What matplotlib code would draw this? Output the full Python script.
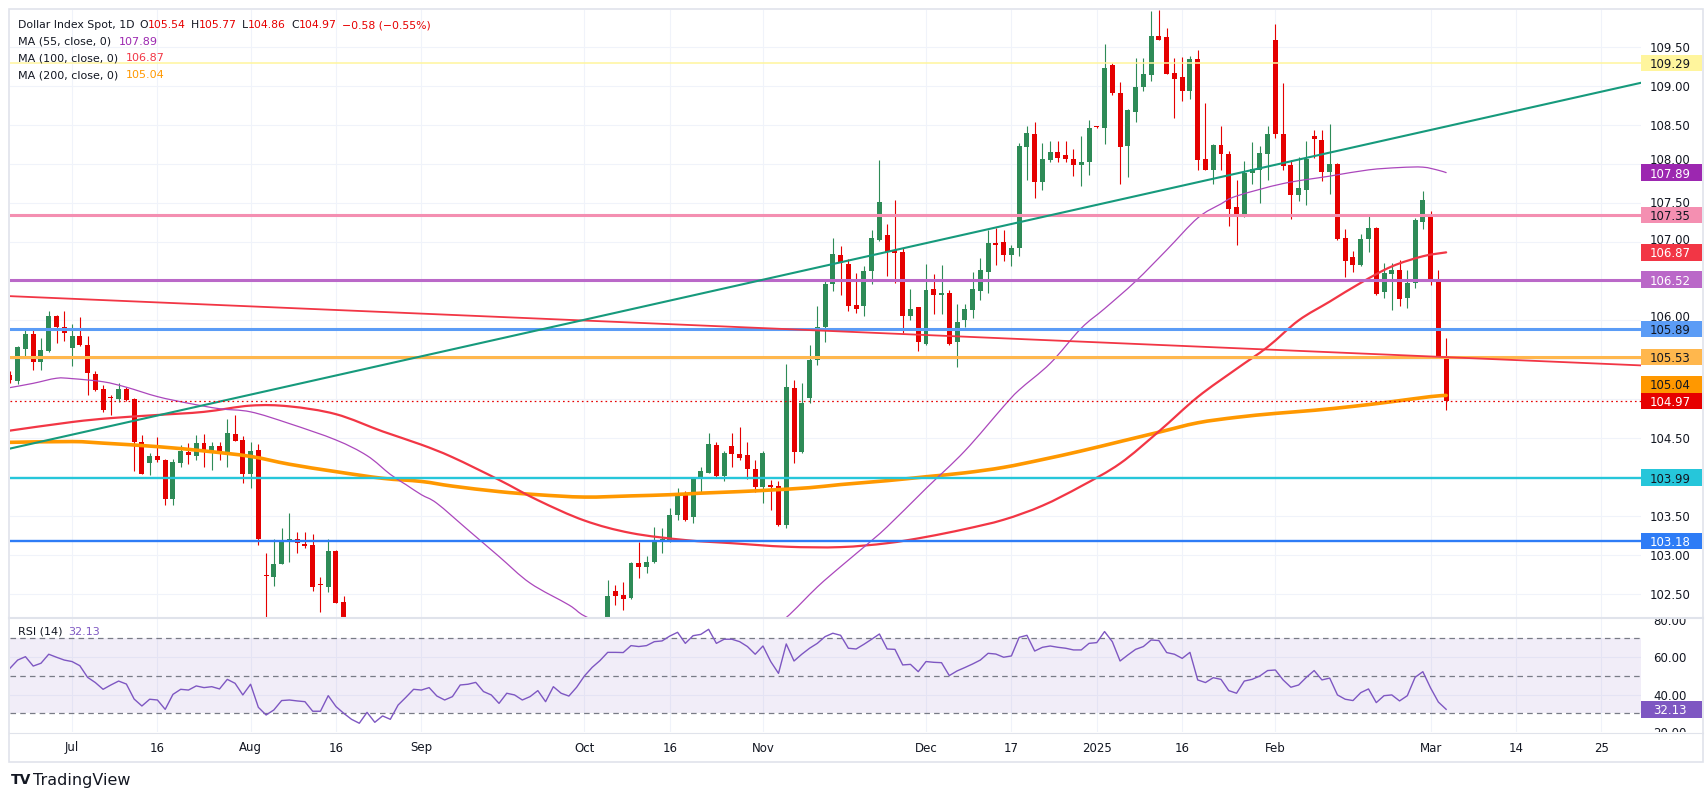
import numpy as np
import pandas as pd
import matplotlib
matplotlib.use("Agg")
import matplotlib.pyplot as plt
from matplotlib.patches import Rectangle, PathPatch
from matplotlib.lines import Line2D
from matplotlib.path import Path
from matplotlib import transforms

plt.rcParams['font.family'] = ['DejaVu Sans']
plt.rcParams['lines.scale_dashes'] = False

# ---------------- data ----------------
dates = pd.bdate_range("2024-06-19", "2025-03-05")

opens = [105.30, 105.23, 105.63, 105.83, 105.47, 105.61, 106.06, 105.92, 105.65, 105.80,
         105.69, 105.32, 105.12, 105.02, 105.00, 105.12, 105.00, 104.44, 104.18, 104.27,
         104.22, 103.72, 104.18, 104.32, 104.26, 104.43, 104.33, 104.39, 104.29, 104.55,
         104.47, 104.04, 104.34, 102.74, 102.72, 102.89, 103.17, 103.21, 103.14, 103.13,
         102.62, 102.59, 103.05, 102.40, 101.86, 101.40, 101.10, 101.50, 100.68, 100.86,
         100.53, 101.08, 101.34, 101.70, 101.69, 101.83, 101.36, 101.09, 101.18, 101.63,
         101.63, 101.69, 101.35, 101.11, 100.75, 100.89, 100.60, 100.63, 100.72, 100.88,
         100.36, 100.91, 100.56, 100.38, 100.78, 101.19, 101.69, 101.99, 102.54, 102.49,
         102.45, 102.90, 102.84, 102.91, 103.19, 103.18, 103.51, 103.77, 103.49, 103.98,
         104.05, 104.41, 104.01, 104.39, 104.29, 104.28, 104.10, 103.87, 103.90, 103.88,
         103.38, 105.13, 104.32, 105.01, 105.49, 105.91, 106.46, 106.84, 106.72, 106.20,
         106.18, 106.63, 107.03, 107.09, 106.90, 106.87, 106.05, 106.17, 105.70, 106.40,
         106.32, 106.35, 105.72, 106.00, 106.13, 106.38, 106.62, 106.99, 107.00, 106.84,
         106.93, 108.22, 108.38, 107.77, 108.05, 108.16, 108.12, 108.07, 107.99, 108.03,
         108.48, 108.46, 109.27, 108.91, 108.23, 108.67, 108.98, 109.14, 109.64, 109.62,
         109.17, 109.11, 108.93, 109.34, 108.07, 107.92, 108.24, 108.13, 107.45, 107.32,
         107.89, 107.92, 108.13, 109.59, 108.39, 107.99, 107.60, 107.67, 108.36, 108.31,
         107.90, 108.00, 107.05, 106.81, 106.71, 107.04, 107.18, 106.36, 106.59, 106.65,
         106.28, 106.48, 107.26, 107.32, 106.53, 105.54]
highs = [105.35, 105.67, 105.90, 105.89, 105.77, 106.12, 106.07, 106.12, 105.96, 106.04,
         105.80, 105.35, 105.17, 105.05, 105.20, 105.15, 105.01, 104.53, 104.31, 104.51,
         104.23, 104.23, 104.41, 104.43, 104.53, 104.55, 104.45, 104.44, 104.74, 104.79,
         104.52, 104.44, 104.42, 103.02, 103.21, 103.35, 103.53, 103.29, 103.29, 103.27,
         102.72, 103.21, 103.06, 102.48, 101.95, 101.55, 101.60, 101.55, 100.95, 100.90,
         101.15, 101.45, 101.85, 101.85, 101.95, 101.90, 101.50, 101.40, 101.70, 101.75,
         101.95, 101.75, 101.40, 101.15, 101.00, 101.05, 101.00, 100.95, 101.05, 101.00,
         101.00, 101.00, 100.70, 100.85, 101.30, 101.75, 102.07, 102.68, 102.62, 102.65,
         102.91, 103.17, 102.99, 103.36, 103.35, 103.60, 103.86, 103.82, 104.00, 104.12,
         104.56, 104.44, 104.33, 104.56, 104.63, 104.44, 104.21, 104.33, 103.96, 103.95,
         105.44, 105.24, 105.20, 105.69, 106.18, 106.53, 107.06, 106.95, 106.79, 106.61,
         106.70, 107.15, 108.05, 107.23, 107.54, 106.92, 106.40, 106.17, 106.72, 106.59,
         106.71, 106.39, 106.21, 106.21, 106.62, 106.80, 107.16, 107.18, 107.16, 106.96,
         108.27, 108.48, 108.54, 108.27, 108.29, 108.29, 108.29, 108.19, 108.36, 108.56,
         108.49, 109.54, 109.29, 109.05, 108.70, 109.35, 109.35, 109.96, 109.97, 109.74,
         109.35, 109.37, 109.38, 109.46, 108.78, 108.26, 108.49, 108.17, 107.80, 108.04,
         108.28, 108.23, 108.49, 109.79, 109.03, 108.05, 108.09, 108.30, 108.44, 108.44,
         108.51, 108.01, 107.17, 106.89, 107.11, 107.36, 107.19, 106.73, 106.73, 106.77,
         106.65, 107.31, 107.66, 107.40, 106.65, 105.77]
lows = [105.20, 105.19, 105.53, 105.37, 105.37, 105.59, 105.71, 105.74, 105.42, 105.67,
        105.05, 105.10, 104.83, 104.79, 104.95, 104.97, 104.07, 104.04, 104.02, 104.19,
        103.64, 103.64, 104.13, 104.16, 104.21, 104.12, 104.08, 104.21, 104.13, 104.46,
        103.92, 103.86, 103.13, 102.16, 102.60, 102.88, 102.91, 103.03, 103.09, 102.54,
        102.27, 102.53, 102.38, 101.80, 101.30, 100.92, 101.00, 100.60, 100.55, 100.50,
        100.45, 100.95, 101.25, 101.55, 101.50, 101.25, 100.95, 100.75, 101.10, 101.45,
        101.30, 101.30, 100.95, 100.65, 100.55, 100.22, 100.40, 100.50, 100.60, 100.25,
        100.20, 100.45, 100.15, 100.20, 100.70, 101.10, 101.55, 101.90, 102.36, 102.30,
        102.44, 102.71, 102.77, 102.90, 103.03, 103.17, 103.45, 103.44, 103.41, 103.81,
        104.05, 104.00, 103.94, 104.12, 104.21, 103.97, 103.81, 103.67, 103.58, 103.37,
        103.34, 104.18, 104.30, 104.94, 105.43, 105.72, 106.38, 106.32, 106.12, 106.10,
        106.06, 106.46, 107.02, 106.57, 106.48, 105.84, 106.00, 105.61, 105.69, 106.08,
        106.08, 105.69, 105.41, 105.91, 106.03, 106.26, 106.35, 106.71, 106.76, 106.70,
        106.82, 107.80, 107.57, 107.67, 108.03, 108.03, 108.02, 107.85, 107.72, 107.86,
        108.46, 108.26, 108.88, 107.75, 107.84, 108.54, 108.93, 109.06, 109.58, 109.15,
        108.59, 108.81, 108.83, 107.92, 107.92, 107.74, 107.92, 107.21, 106.97, 107.32,
        107.74, 107.50, 107.79, 108.33, 107.92, 107.30, 107.53, 107.47, 108.08, 107.78,
        107.62, 107.03, 106.56, 106.62, 106.70, 106.88, 106.33, 106.28, 106.13, 106.19,
        106.16, 106.42, 107.17, 106.45, 105.52, 104.86]
closes = [105.24, 105.66, 105.83, 105.47, 105.62, 106.06, 105.92, 105.84, 105.80, 105.68,
          105.33, 105.11, 104.85, 105.01, 105.12, 104.98, 104.44, 104.04, 104.27, 104.21,
          103.72, 104.19, 104.33, 104.28, 104.43, 104.34, 104.39, 104.31, 104.56, 104.46,
          104.04, 104.33, 103.21, 102.73, 102.89, 103.17, 103.21, 103.15, 103.11, 102.59,
          102.61, 103.05, 102.39, 101.86, 101.40, 101.10, 101.50, 100.68, 100.86, 100.53,
          101.08, 101.34, 101.70, 101.69, 101.83, 101.36, 101.09, 101.18, 101.63, 101.63,
          101.69, 101.35, 101.11, 100.75, 100.89, 100.60, 100.63, 100.72, 100.88, 100.36,
          100.91, 100.56, 100.38, 100.78, 101.19, 101.69, 101.99, 102.47, 102.48, 102.44,
          102.90, 102.84, 102.91, 103.19, 103.20, 103.51, 103.77, 103.45, 103.97, 104.07,
          104.42, 104.01, 104.30, 104.29, 104.24, 104.10, 103.87, 104.30, 103.87, 103.38,
          105.15, 104.32, 104.94, 105.49, 105.91, 106.47, 106.85, 106.74, 106.18, 106.15,
          106.63, 107.05, 107.51, 106.87, 106.86, 106.05, 106.14, 105.72, 106.39, 106.33,
          106.35, 105.70, 105.98, 106.15, 106.40, 106.64, 106.99, 106.96, 106.83, 106.93,
          108.23, 108.40, 107.77, 108.07, 108.16, 108.08, 108.06, 107.99, 108.03, 108.46,
          108.47, 109.23, 108.91, 108.22, 108.69, 108.98, 109.15, 109.64, 109.59, 109.15,
          109.09, 108.93, 109.34, 108.05, 107.92, 108.24, 108.13, 107.43, 107.32, 107.89,
          107.93, 108.14, 108.39, 108.39, 107.98, 107.60, 107.69, 108.06, 108.32, 107.90,
          108.00, 107.04, 106.76, 106.71, 107.04, 107.18, 106.34, 106.61, 106.65, 106.27,
          106.48, 107.29, 107.54, 106.53, 105.53, 104.97]

rsi_values = [54.0, 58.4, 60.2, 55.2, 56.7, 61.5, 59.9, 58.4,
              57.6, 55.4, 49.2, 46.4, 42.8, 45.1, 47.2, 45.6, 37.6, 33.9,
              37.5, 37.1, 32.1, 40.1, 42.8, 42.4, 44.6, 43.7, 44.2, 43.0,
              48.1, 46.0, 39.8, 45.5, 33.2, 29.1, 31.8, 36.8, 37.1, 36.6,
              36.2, 31.1, 31.1, 39.4, 33.6, 30.0, 26.8, 24.7, 30.5, 25.2,
              28.6, 26.8, 34.4, 38.5, 42.8, 42.4, 43.7, 39.2, 37.1, 38.9,
              45.1, 45.5, 46.5, 41.6, 39.8, 35.3, 40.7, 39.8, 37.1, 38.9,
              42.1, 36.2, 44.2, 40.7, 39.2, 43.9, 49.9, 54.5, 58.1, 62.5,
              62.5, 62.4, 66.1, 65.6, 66.1, 68.2, 68.6, 71.2, 73.2, 67.3,
              71.4, 72.1, 74.8, 67.3, 69.5, 69.5, 68.2, 65.6, 61.5, 65.9,
              57.6, 51.3, 67.0, 57.9, 61.5, 64.7, 67.3, 70.9, 72.7, 71.6,
              64.7, 64.3, 66.8, 69.5, 72.3, 64.3, 64.1, 55.8, 56.1, 52.2,
              57.6, 57.2, 57.0, 50.1, 52.6, 54.4, 56.3, 58.4, 62.0, 61.6,
              59.9, 60.6, 70.5, 71.6, 63.2, 65.2, 65.9, 65.2, 64.7, 63.8,
              63.8, 67.3, 67.7, 73.6, 68.2, 57.9, 61.1, 64.1, 65.6, 69.1,
              68.8, 62.4, 61.5, 59.3, 62.5, 47.8, 46.4, 49.0, 48.1, 42.1,
              40.7, 47.2, 48.1, 49.9, 52.8, 53.1, 47.8, 43.9, 45.1, 49.2,
              52.8, 47.8, 48.8, 39.8, 37.5, 36.8, 41.0, 43.0, 35.7, 39.4,
              39.8, 36.6, 39.4, 49.2, 52.2, 43.5, 36.0, 32.13]

ma55_dates = ["2024-06-19", "2024-06-24", "2024-06-27", "2024-07-01", "2024-07-05", "2024-07-10",
              "2024-07-16", "2024-07-22", "2024-07-26", "2024-08-01", "2024-08-08", "2024-08-16",
              "2024-08-22", "2024-08-27", "2024-08-29", "2024-09-02", "2024-09-04", "2024-09-10",
              "2024-09-16", "2024-09-20", "2024-09-27", "2024-10-01", "2024-10-07", "2024-10-14",
              "2024-10-21", "2024-10-28", "2024-11-04", "2024-11-06", "2024-11-12", "2024-11-15",
              "2024-11-20", "2024-11-25", "2024-12-02", "2024-12-09", "2024-12-16", "2024-12-18",
              "2024-12-24", "2024-12-30", "2025-01-02", "2025-01-08", "2025-01-14", "2025-01-20",
              "2025-01-23", "2025-01-27", "2025-02-04", "2025-02-12", "2025-02-19", "2025-02-25",
              "2025-02-28", "2025-03-04", "2025-03-05"]
ma55_values = [105.14, 105.195, 105.26, 105.255, 105.215, 105.145,
               105.025, 104.94, 104.87, 104.83, 104.68, 104.47,
               104.27, 104.03, 103.90, 103.77, 103.66, 103.32,
               102.98, 102.64, 102.36, 102.22, 102.05, 101.92,
               101.86, 101.92, 102.10, 102.20, 102.59, 102.85,
               103.10, 103.36, 103.85, 104.33, 104.90, 105.11,
               105.45, 105.90, 106.15, 106.50, 106.90, 107.31,
               107.49, 107.59, 107.75, 107.845, 107.925, 107.955,
               107.96, 107.92, 107.89]

ma100_dates = ["2024-06-19", "2024-07-01", "2024-07-08", "2024-07-16", "2024-07-24", "2024-08-01",
               "2024-08-08", "2024-08-16", "2024-08-26", "2024-09-02", "2024-09-06", "2024-09-16",
               "2024-09-23", "2024-10-01", "2024-10-09", "2024-10-18", "2024-10-28", "2024-11-06",
               "2024-11-15", "2024-11-25", "2024-12-02", "2024-12-09", "2024-12-16", "2024-12-23",
               "2024-12-30", "2025-01-06", "2025-01-13", "2025-01-20", "2025-01-27", "2025-01-31",
               "2025-02-06", "2025-02-12", "2025-02-18", "2025-02-24", "2025-02-28", "2025-03-05"]
ma100_values = [104.59, 104.70, 104.75, 104.79, 104.83, 104.91,
                104.90, 104.80, 104.58, 104.41, 104.25, 103.96,
                103.70, 103.44, 103.28, 103.19, 103.15, 103.105,
                103.10, 103.15, 103.23, 103.33, 103.45, 103.63,
                103.88, 104.17, 104.58, 105.02, 105.38, 105.66,
                106.00, 106.24, 106.48, 106.69, 106.82, 106.87]

ma200_dates = ["2024-06-19", "2024-07-01", "2024-07-05", "2024-07-16", "2024-07-24", "2024-08-01",
               "2024-08-08", "2024-08-16", "2024-08-26", "2024-09-02", "2024-09-06", "2024-09-16",
               "2024-09-23", "2024-10-01", "2024-10-09", "2024-10-16", "2024-10-22", "2024-10-29",
               "2024-11-04", "2024-11-11", "2024-11-15", "2024-11-25", "2024-12-02", "2024-12-09",
               "2024-12-16", "2024-12-23", "2024-12-30", "2025-01-06", "2025-01-13", "2025-01-20",
               "2025-01-27", "2025-02-03", "2025-02-10", "2025-02-17", "2025-02-24", "2025-03-03",
               "2025-03-05"]
ma200_values = [104.44, 104.45, 104.43, 104.385, 104.33, 104.26,
                104.16, 104.065, 103.98, 103.94, 103.88, 103.81,
                103.77, 103.74, 103.755, 103.77, 103.79, 103.81,
                103.83, 103.86, 103.90, 103.95, 104.00, 104.05,
                104.12, 104.22, 104.33, 104.45, 104.57, 104.69,
                104.76, 104.81, 104.85, 104.90, 104.96, 105.025,
                105.04]

level_prices = [109.29, 107.35, 106.52, 105.89, 105.53, 103.99, 103.18]

trend_up_dates = ["2024-06-19", "2025-03-05"]
trend_up_prices = [104.36, 108.48]
trend_down_dates = ["2024-06-19", "2025-03-05"]
trend_down_prices = [106.31, 105.53]

tick_dates = ["2024-07-01", "2024-07-16", "2024-08-01", "2024-08-16", "2024-09-02",
              "2024-10-01", "2024-10-16", "2024-11-01", "2024-12-02", "2024-12-17",
              "2025-01-01", "2025-01-16", "2025-02-03", "2025-03-03", "2025-03-14",
              "2025-03-25"]
tick_labels = ["Jul", "16", "Aug", "16", "Sep", "Oct", "16", "Nov", "Dec", "17",
               "2025", "16", "Feb", "Mar", "14", "25"]
price_ticks = [102.5, 103.0, 103.5, 104.0, 104.5, 105.0, 105.5, 106.0, 106.5,
               107.0, 107.5, 108.0, 108.5, 109.0, 109.5]
rsi_ticks = [20, 40, 60, 80]

# ---------------- styling ----------------
W, H, DPI = 1706, 797, 100
UP, DN = '#2e8b57', '#e50000'
TXT = '#131722'
GRID = '#f0f3fa'
C_MA55, C_MA100, C_MA200 = '#ab47bc', '#f23645', '#ff9800'
level_colors = ['#fff59d', '#f48fb1', '#ba68c8', '#5b9cf6', '#ffb74d', '#26c6da', '#2e7cf6']
level_widths = [1.1, 2.2, 2.2, 2.2, 2.2, 1.7, 1.7]
level_text = [TXT, TXT, 'white', TXT, TXT, TXT, 'white']

date_pos = {d: i for i, d in enumerate(dates)}
last_i = len(dates) - 1


def pos(s):
    d = pd.Timestamp(s)
    if d in date_pos:
        return date_pos[d]
    return last_i + (d - dates[-1]).days


def smooth_path(xs, ys):
    # Catmull-Rom curve through the given points, drawn as cubic Bezier segments
    pts = np.column_stack([xs, ys]).astype(float)
    verts = [pts[0]]
    codes = [Path.MOVETO]
    n = len(pts)
    for i in range(n - 1):
        p0 = pts[i - 1] if i > 0 else pts[i]
        p1, p2 = pts[i], pts[i + 1]
        p3 = pts[i + 2] if i + 2 < n else pts[i + 1]
        verts += [p1 + (p2 - p0) / 6.0, p2 - (p3 - p1) / 6.0, p2]
        codes += [Path.CURVE4] * 3
    return Path(verts, codes)


fig = plt.figure(figsize=(W / DPI, H / DPI), dpi=DPI)
fig.patch.set_facecolor('white')


def fbox(l, t, r, b):
    return [l / W, 1 - b / H, (r - l) / W, (b - t) / H]


ax = fig.add_axes(fbox(10, 10, 1641, 617))
ax_r = fig.add_axes(fbox(10, 618, 1641, 732))
ax_s = fig.add_axes(fbox(1641, 10, 1704, 617))
ax_rs = fig.add_axes(fbox(1641, 618, 1704, 732))
for a in (ax, ax_r, ax_s, ax_rs):
    a.set_facecolor('none')
    for sp in a.spines.values():
        sp.set_visible(False)
    a.tick_params(left=False, bottom=False, labelleft=False, labelbottom=False)

XL = (0.01, 210.1)
YL = (102.206, 109.97)
RL = (20.03, 80.83)
ax.set_xlim(*XL); ax.set_ylim(*YL)
ax_r.set_xlim(*XL); ax_r.set_ylim(*RL)
ax_s.set_xlim(0, 63); ax_s.set_ylim(*YL)
ax_rs.set_xlim(0, 63); ax_rs.set_ylim(*RL)
PX = 607.0 / (YL[1] - YL[0])  # pixels per price unit

# grid
tick_pos = [pos(d) for d in tick_dates]
for p in price_ticks:
    ax.axhline(p, color=GRID, lw=0.8, zorder=0)
for xv in tick_pos:
    ax.axvline(xv, color=GRID, lw=0.8, zorder=0)
    ax_r.axvline(xv, color=GRID, lw=0.8, zorder=0)
for v in (40, 60):
    ax_r.axhline(v, color=GRID, lw=0.8, zorder=0)

# candles
x = np.arange(len(dates))
o = np.array(opens); h = np.array(highs); l = np.array(lows); c = np.array(closes)
cols = np.where(c >= o, UP, DN)
ax.vlines(x, l, h, colors=cols, lw=0.8, zorder=2)
ax.bar(x, np.maximum(np.abs(c - o), 0.013), bottom=np.minimum(o, c), width=0.64,
       color=cols, lw=0, zorder=2.1)

# moving averages (smooth curves through the read values)
for dts, vals, col, lw, z in [(ma200_dates, ma200_values, C_MA200, 2.6, 3.0),
                              (ma100_dates, ma100_values, C_MA100, 1.6, 3.1),
                              (ma55_dates, ma55_values, C_MA55, 0.9, 3.2)]:
    ax.add_patch(PathPatch(smooth_path([pos(d) for d in dts], vals), fill=False,
                           edgecolor=col, lw=lw, zorder=z, capstyle='round'))

# horizontal levels
for p, col, lw in zip(level_prices, level_colors, level_widths):
    ax.axhline(p, color=col, lw=lw, zorder=4)

# trend lines
ax.axline((pos(trend_up_dates[0]), trend_up_prices[0]),
          (pos(trend_up_dates[1]), trend_up_prices[1]), color='#169a7c', lw=1.5, zorder=4.2)
ax.axline((pos(trend_down_dates[0]), trend_down_prices[0]),
          (pos(trend_down_dates[1]), trend_down_prices[1]), color='#f23645', lw=1.3, zorder=4.1)

# last price dotted line
ax.axhline(closes[-1], color='#e60000', lw=0.9, dashes=(1.2, 2.2), zorder=4.3)

# RSI panel
ax_r.axhspan(30, 70, color='#7e57c2', alpha=0.1, lw=0, zorder=0.5)
for v in (70, 50, 30):
    ax_r.axhline(v, color='#787b86', lw=0.9, dashes=(4, 3), zorder=1)
ax_r.plot(x, rsi_values, color='#7e57c2', lw=1.0, zorder=3)

# price scale labels (boxes), stacked so that they do not overlap
box_px = 16.5
box_h = box_px / PX
lab = [(p, bg, fg) for p, bg, fg in zip(level_prices, level_colors, level_text)]
lab += [(ma55_values[-1], '#9c27b0', 'white'), (ma100_values[-1], '#f23645', 'white'),
        (ma200_values[-1], '#ff9800', TXT), (closes[-1], '#e60000', 'white')]
placed = []
prev = -1e9
for p, bg, fg in sorted(lab, key=lambda t: t[0]):
    y = max(p, prev + box_h)
    prev = y
    placed.append(y)
    ax_s.add_patch(Rectangle((0, y - box_h / 2), 61.5, box_h, fc=bg, ec='none', zorder=5))
    ax_s.text(29, y, f"{p:.2f}", ha='center', va='center_baseline', fontsize=8.5,
              color=fg, zorder=6)

# price scale ticks (hidden where a label box covers them, nudged where partly covered)
half_txt = 5.0
for p in price_ticks:
    yy = p
    hidden = False
    for yb in placed:
        d = (yy - yb) * PX
        lim = box_px / 2 + half_txt
        if abs(d) < lim:
            if abs(d) < 6:
                hidden = True
            else:
                yy = yb + np.sign(d) * lim / PX
    if not hidden:
        ax_s.text(29, yy, f"{p:.2f}", ha='center', va='center_baseline', fontsize=8.5,
                  color=TXT, zorder=2, clip_on=True)

for v in rsi_ticks:
    ax_rs.text(29, v, f"{v:.2f}", ha='center', va='center_baseline', fontsize=8.5,
               color=TXT, zorder=2, clip_on=True)
rbox_h = box_px / 114 * (RL[1] - RL[0])
ax_rs.add_patch(Rectangle((0, rsi_values[-1] - rbox_h / 2), 61.5, rbox_h, fc='#7e57c2',
                          ec='none', zorder=5))
ax_rs.text(29, rsi_values[-1], f"{rsi_values[-1]:.2f}", ha='center', va='center_baseline',
           fontsize=8.5, color='white', zorder=6)

# time axis labels
trans = transforms.blended_transform_factory(ax_r.transData, fig.transFigure)
for xv, t in zip(tick_pos, tick_labels):
    fig.text(xv, 1 - 748 / H, t, transform=trans, ha='center', va='center',
             fontsize=8.5, color=TXT)

# frame & separators
fig.add_artist(Rectangle((9 / W, 1 - 762 / H), (1703 - 9) / W, (762 - 9) / H,
                         transform=fig.transFigure, fill=False, ec='#e0e3eb', lw=1.2))
fig.add_artist(Line2D([9 / W, 1703 / W], [1 - 617.5 / H] * 2, color='#e0e3eb', lw=1.5))
fig.add_artist(Line2D([9 / W, 1703 / W], [1 - 732.5 / H] * 2, color='#e0e3eb', lw=0.8))

# legends
renderer = fig.canvas.get_renderer()


def draw_seq(x0, y0, segs, size=8):
    xx = x0
    for text, color, gap in segs:
        xx += gap
        t = fig.text(xx / W, 1 - y0 / H, text, color=color, fontsize=size,
                     ha='left', va='center')
        bb = t.get_window_extent(renderer)
        xx = bb.x1


RED = '#e60000'
draw_seq(18, 25, [("Dollar Index Spot, 1D", TXT, 0), ("O", TXT, 5), (f"{opens[-1]:.2f}", RED, 0),
                  ("H", TXT, 5), (f"{highs[-1]:.2f}", RED, 0), ("L", TXT, 5),
                  (f"{lows[-1]:.2f}", RED, 0), ("C", TXT, 5), (f"{closes[-1]:.2f}", RED, 0),
                  ("\u22120.58 (\u22120.55%)", RED, 5)], size=7.8)
draw_seq(18, 41.7, [("MA (55, close, 0)", TXT, 0), (f"{ma55_values[-1]:.2f}", '#9c27b0', 8)])
draw_seq(18, 58.3, [("MA (100, close, 0)", TXT, 0), (f"{ma100_values[-1]:.2f}", '#f23645', 8)])
draw_seq(18, 75, [("MA (200, close, 0)", TXT, 0), (f"{ma200_values[-1]:.2f}", '#ff9800', 8)])
draw_seq(18, 632, [("RSI (14)", TXT, 0), (f"{rsi_values[-1]:.2f}", '#7e57c2', 6)])

# TradingView logo
fig.text(11 / W, 1 - 780 / H, "TV", fontsize=10, fontweight='black', color=TXT,
         ha='left', va='center')
fig.text(33 / W, 1 - 780 / H, "TradingView", fontsize=11.5, color=TXT, ha='left', va='center')

fig.savefig("out.png", dpi=DPI, facecolor='white')
